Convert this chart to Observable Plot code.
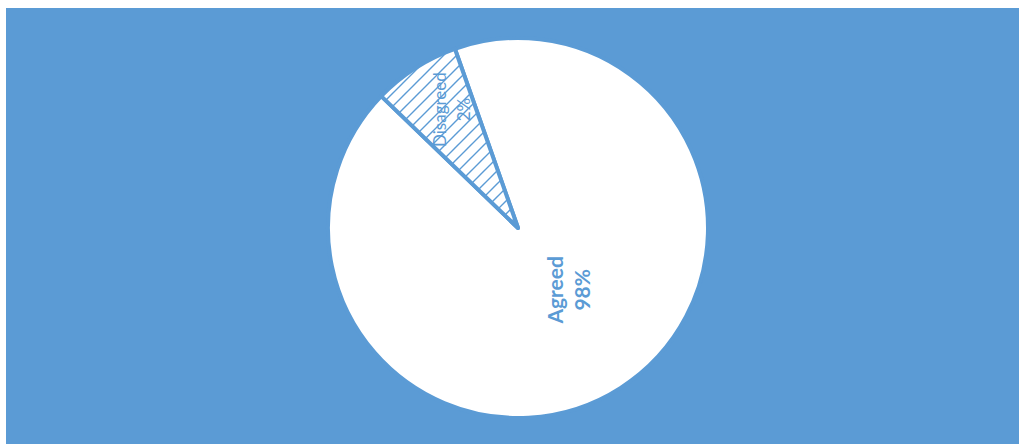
<!DOCTYPE html>
<html><head><meta charset="utf-8">
<script src="https://cdn.jsdelivr.net/npm/d3@7"></script>
<script src="https://cdn.jsdelivr.net/npm/@observablehq/plot@0.6"></script>
<style>
html,body{margin:0;padding:0;background:#fff;}
#chart{position:absolute;left:6px;top:8px;width:1013px;height:436px;background:#5B9BD5;}
#chart svg{background:transparent;}
</style></head>
<body><div id="chart"></div>
<script>
// Data
const categories = ["Agreed", "Disagreed"];
const shares = [92.6, 7.4];           // slice sizes as drawn
const percentLabels = ["98%", "2%"];   // labels as printed
const startDeg = -19.4;                // where the first slice begins (clockwise from 12 o'clock)

const BLUE = "#5B9BD5";
const data = categories.map((c, i) => ({category: c, share: shares[i], pct: percentLabels[i]}));

const start = startDeg * Math.PI / 180;
const arcs = d3.pie().sort(null).value(d => d.share).startAngle(start).endAngle(start + 2 * Math.PI)(data);

// label anchor (unit coords) along each slice's mid angle
const labelRadius = {Agreed: 0.415, Disagreed: 0.725};
const labelData = arcs.map(a => {
  const m = (a.startAngle + a.endAngle) / 2;
  const r = labelRadius[a.data.category];
  return {category: a.data.category, text: a.data.category + "\n" + a.data.pct, x: r * Math.sin(m), y: r * Math.cos(m)};
});

function pieMark(index, scales) {
  const {x, y} = scales;
  const cx = x(0), cy = y(0), R = x(1) - x(0);
  const svg = d3.create("svg:g");
  const defs = svg.append("defs");
  const P = 13;
  const pat = defs.append("pattern").attr("id", "hatch").attr("patternUnits", "userSpaceOnUse")
    .attr("width", P).attr("height", P);
  pat.append("rect").attr("width", P).attr("height", P).attr("fill", "#fff");
  pat.append("path").attr("d", `M-3,3 L3,-3 M0,${P} L${P},0 M${P-3},${P+3} L${P+3},${P-3}`)
    .attr("stroke", BLUE).attr("stroke-width", 1.4).attr("fill", "none");
  const arc = d3.arc().innerRadius(0).outerRadius(R);
  svg.selectAll("path.slice").data(arcs).join("path")
    .attr("class", "slice")
    .attr("transform", `translate(${cx},${cy})`)
    .attr("d", arc)
    .attr("fill", d => d.data.category === "Disagreed" ? "url(#hatch)" : "#fff")
    .attr("stroke", BLUE).attr("stroke-width", 4).attr("stroke-linejoin", "round");
  return svg.node();
}

const chart = Plot.plot({
  width: 1013,
  height: 436,
  margin: 0,
  style: {background: "transparent"},
  x: {domain: [-1, 1], range: [322, 702], axis: null},
  y: {domain: [-1, 1], range: [410, 30], axis: null},
  marks: [
    pieMark,
    Plot.text(labelData.filter(d => d.category === "Agreed"), {
      x: "x", y: "y", text: "text", rotate: -90, dx: 7, dy: -5,
      fill: BLUE, fontSize: 21, fontWeight: "bold", fontFamily: "Lato", lineHeight: 1.3
    }),
    Plot.text(labelData.filter(d => d.category === "Disagreed"), {
      x: "x", y: "y", text: "text", rotate: -90, dx: 6, dy: -3,
      fill: BLUE, fontSize: 17, fontFamily: "Lato", lineHeight: 1.4
    })
  ]
});
document.getElementById("chart").appendChild(chart);
</script>
</body></html>
